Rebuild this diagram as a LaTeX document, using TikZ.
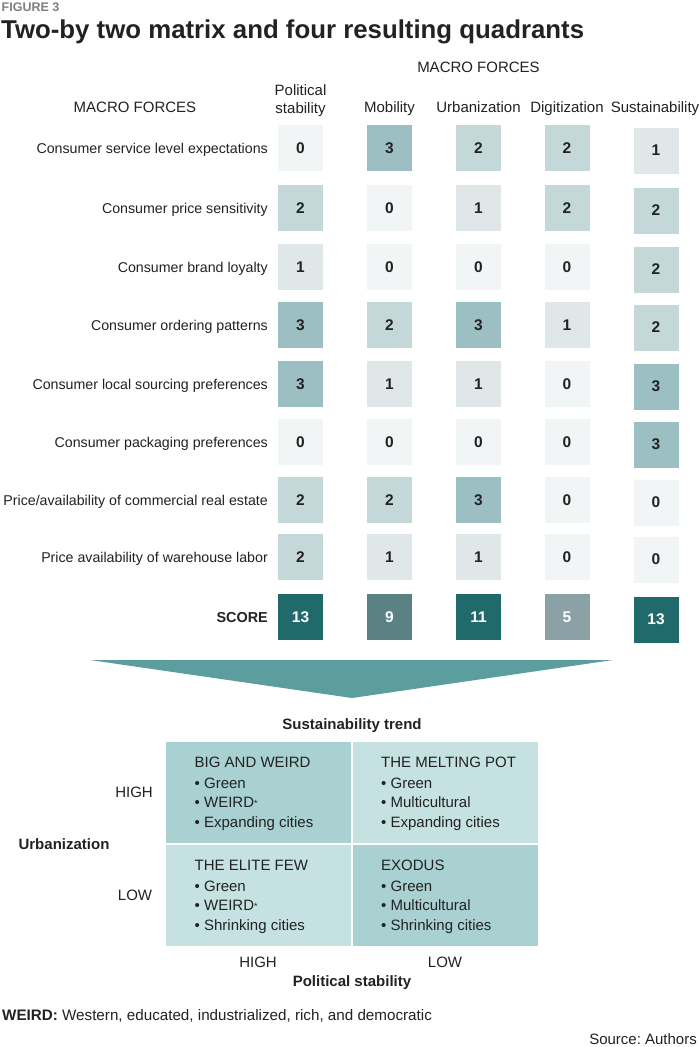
\documentclass[tikz,border=0pt]{standalone}
\usepackage{fontspec}
\setmainfont{Liberation Sans}
\frenchspacing
\definecolor{txt}{HTML}{222222}
\definecolor{figgray}{HTML}{7F7F7F}
\definecolor{L0}{HTML}{F2F5F5}
\definecolor{L1}{HTML}{E0E7E8}
\definecolor{L2}{HTML}{C4D8DA}
\definecolor{L3}{HTML}{9BBFC2}
\definecolor{Sdark}{HTML}{216A6C}
\definecolor{Snine}{HTML}{5A8284}
\definecolor{Sfive}{HTML}{8AA2A5}
\definecolor{arrowc}{HTML}{5C9DA0}
\definecolor{Qd}{HTML}{A9D1D2}
\definecolor{Ql}{HTML}{C6E1E1}
\newcommand\mxrow[8]{%
  \node[rowlab] (lab#1) at (268,#2+5.2) {#3};
  \node[cell,fill=L#4] (c#1a) at (300.5,#2) {#4};
  \node[cell,fill=L#5] (c#1b) at (389.5,#2) {#5};
  \node[cell,fill=L#6] (c#1c) at (478.5,#2) {#6};
  \node[cell,fill=L#7] (c#1d) at (567,#2) {#7};
  \node[cell,fill=L#8] (c#1e) at (656,#2+2.5) {#8};
}
\begin{document}
\begin{tikzpicture}[x=1pt,y=-1pt,
  every node/.style={text=txt},
  cell/.style={minimum width=45pt,minimum height=46pt,inner sep=0pt,
    font=\fontsize{15.5}{16}\selectfont\bfseries},
  scorecell/.style={cell,text=white},
  rowlab/.style={anchor=base east,inner sep=0pt,font=\fontsize{14.2}{18}\selectfont},
  lab/.style={anchor=base,inner sep=0pt,font=\fontsize{15}{18}\selectfont},
  blab/.style={lab,font=\fontsize{15}{18}\selectfont\bfseries},
  quad/.style={minimum width=185pt,minimum height=101pt,inner sep=0pt,anchor=north west},
  qtext/.style={anchor=base west,align=left,inner sep=0pt,font=\fontsize{15}{19.5}\selectfont}]
\useasboundingbox (0,0) rectangle (700,1047);
\fill[white] (0,0) rectangle (700,1047);

% header
\node[anchor=base west,inner sep=0pt,text=figgray,font=\fontsize{12.5}{14}\selectfont\bfseries] (fig) at (1.5,11.5) {FIGURE 3};
\node[anchor=base west,inner sep=0pt,font=\fontsize{25.8}{28}\selectfont\bfseries] (title) at (1,38) {Two-by two matrix and four resulting quadrants};

% column headers
\node[lab] (mftop) at (478.5,72) {MACRO FORCES};
\node[lab] (mfleft) at (135,112.4) {MACRO FORCES};
\node[lab,align=center,anchor=south] (hpol) at (300.5,117) {Political\\stability};
\node[lab] (hmob) at (389.5,112.4) {Mobility};
\node[lab] (hurb) at (478.5,112.4) {Urbanization};
\node[lab] (hdig) at (567,112.4) {Digitization};
\node[lab] (hsus) at (655,112.4) {Sustainability};

% matrix rows
\mxrow{1}{148}{Consumer service level expectations}{0}{3}{2}{2}{1}
\mxrow{2}{208}{Consumer price sensitivity}{2}{0}{1}{2}{2}
\mxrow{3}{267}{Consumer brand loyalty}{1}{0}{0}{0}{2}
\mxrow{4}{325}{Consumer ordering patterns}{3}{2}{3}{1}{2}
\mxrow{5}{384}{Consumer local sourcing preferences}{3}{1}{1}{0}{3}
\mxrow{6}{442}{Consumer packaging preferences}{0}{0}{0}{0}{3}
\mxrow{7}{500}{Price/availability of commercial real estate}{2}{2}{3}{0}{0}
\mxrow{8}{557}{Price availability of warehouse labor}{2}{1}{1}{0}{0}

% score row
\node[rowlab,font=\fontsize{14.4}{18}\selectfont\bfseries] (labS) at (268,622.2) {SCORE};
\node[scorecell,fill=Sdark] (sa) at (300.5,617) {13};
\node[scorecell,fill=Snine] (sb) at (389.5,617) {9};
\node[scorecell,fill=Sdark] (sc) at (478.5,617) {11};
\node[scorecell,fill=Sfive] (sd) at (567,617) {5};
\node[scorecell,fill=Sdark] (se) at (656,619.5) {13};

% funnel arrow
\fill[arrowc] (90,660) -- (613,660) -- (352,698) -- cycle;

% quadrant chart
\node[blab] (strend) at (352,729.4) {Sustainability trend};
\node[quad,fill=Qd] (qHH) at (166,742) {};
\node[quad,fill=Ql] (qLH) at (353,742) {};
\node[quad,fill=Ql] (qHL) at (166,845) {};
\node[quad,fill=Qd] (qLL) at (353,845) {};

\node[qtext] (tHH) at (194.5,827.4) {BIG AND WEIRD\\[1.5pt]• Green\\• WEIRD\raisebox{1.5pt}{\fontsize{9}{9}\selectfont *}\\• Expanding cities};
\node[qtext] (tLH) at (381,827.4) {THE MELTING POT\\[1.5pt]• Green\\• Multicultural\\• Expanding cities};
\node[qtext] (tHL) at (194.5,930.4) {THE ELITE FEW\\[1.5pt]• Green\\• WEIRD\raisebox{1.5pt}{\fontsize{9}{9}\selectfont *}\\• Shrinking cities};
\node[qtext] (tLL) at (381,930.4) {EXODUS\\[1.5pt]• Green\\• Multicultural\\• Shrinking cities};

\node[lab] (uhigh) at (134,797.4) {HIGH};
\node[blab] (urb) at (64,849.4) {Urbanization};
\node[lab] (ulow) at (135,900.4) {LOW};
\node[lab] (phigh) at (258,967.4) {HIGH};
\node[lab] (plow) at (445,967.4) {LOW};
\node[blab] (pstab) at (352,986.4) {Political stability};

% footer
\node[anchor=base west,inner sep=0pt,font=\fontsize{15.2}{17}\selectfont] (weird) at (2,1020.4) {\textbf{WEIRD:} Western, educated, industrialized, rich, and democratic};
\node[anchor=base east,inner sep=0pt,font=\fontsize{15}{17}\selectfont] (src) at (697,1044.4) {Source: Authors};
\end{tikzpicture}
\end{document}
